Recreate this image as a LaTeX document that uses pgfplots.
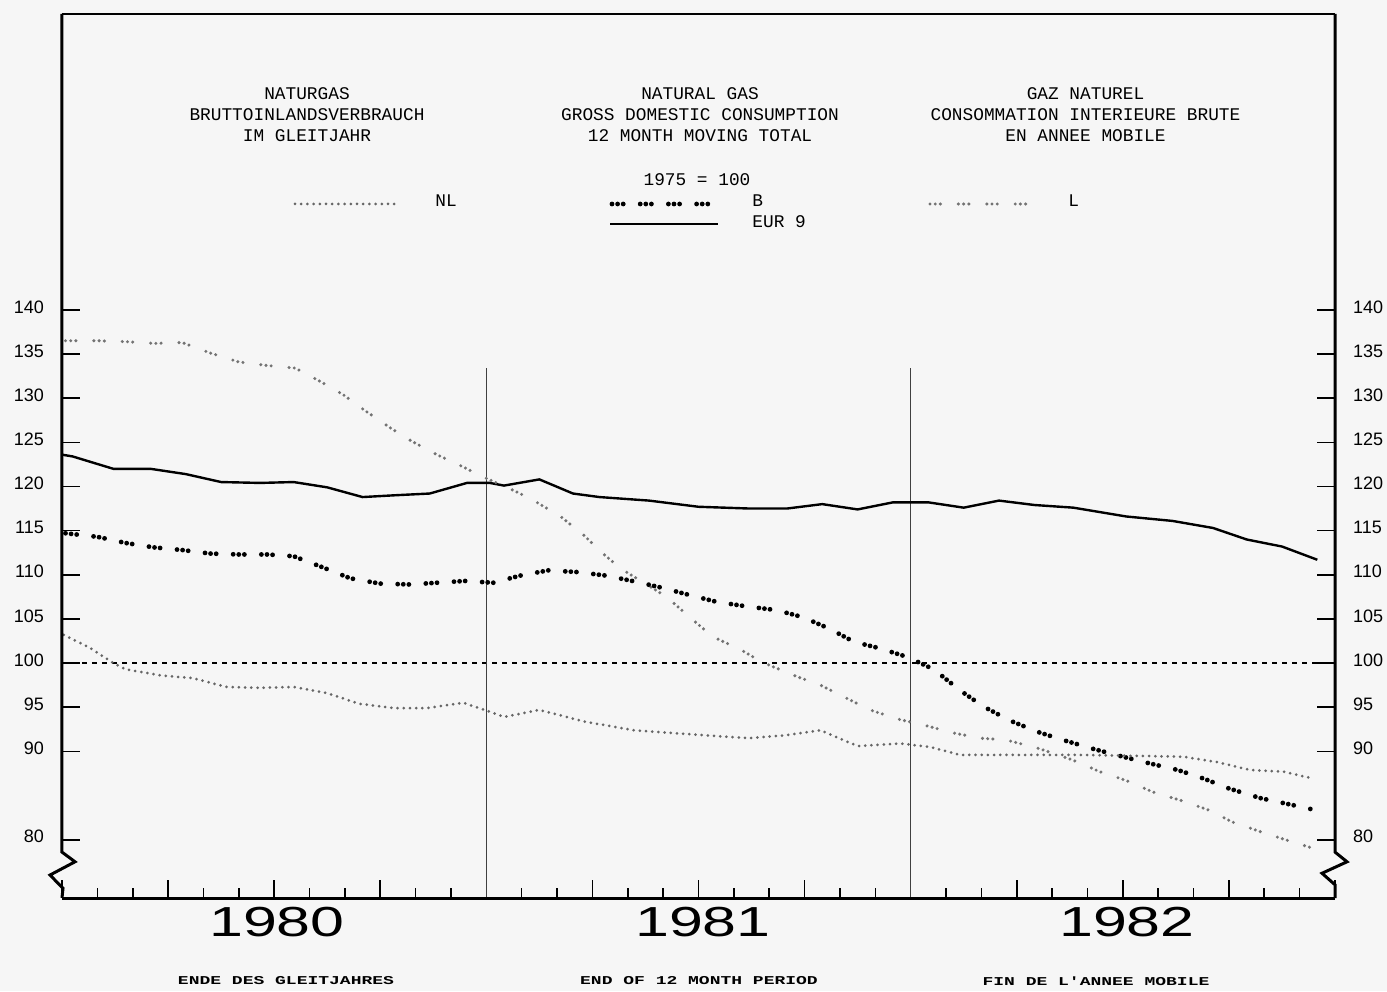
\documentclass[border=0pt]{standalone}
\usepackage{pgfplots}
\pgfplotsset{compat=1.18}
\usepackage{graphicx}
\usepackage{fontspec}
\setmainfont{Liberation Sans}
\newfontfamily\mono{Liberation Mono}

\tikzset{
  nlstyle/.style={draw=black!60, line width=1.5pt, line cap=round, dash pattern=on 0pt off 3.1pt},
  lstyle/.style={draw=black!55, line width=1.7pt, line cap=round, dash pattern=on 0pt off 2.6pt on 0pt off 2.6pt on 0pt off 9pt},
  bstyle/.style={draw=black, line width=2.4pt, line cap=round, dash pattern=on 0pt off 2.8pt on 0pt off 2.8pt on 0pt off 8.5pt},
  eurstyle/.style={draw=black, line width=1.2pt},
}

\begin{document}
\begin{tikzpicture}
\useasboundingbox (0,0) rectangle (693.5pt,495.5pt);
\fill[gray!7] (0,0) rectangle (693.5pt,495.5pt);

\begin{axis}[
  at={(31pt,46.5pt)}, anchor=south west, scale only axis,
  width=636.5pt, height=442pt,
  xmin=0, xmax=36, ymin=73.4, ymax=173.5,
  clip=false,
  axis line style={draw=none},
  xtick={0,3,...,36},
  minor xtick={1,2,4,5,7,8,10,11,13,14,16,17,19,20,22,23,25,26,28,29,31,32,34,35},
  xticklabels={},
  xtick pos=bottom,
  ytick={80,90,95,100,105,110,115,120,125,130,135,140},
  ytick pos=both,
  yticklabel pos=left,
  tick align=inside,
  major tick length=9pt, minor tick length=5pt,
  tick style={black, line width=0.8pt},
  /pgf/number format/assume math mode=true,
  yticklabel style={font=\fontsize{9}{10}\selectfont, xshift=-5.5pt, yshift=1.5pt},
]
% reference lines
\addplot[black, line width=0.6pt, dash pattern=on 2.5pt off 2.5pt] coordinates {(0,100)(36,100)};
\addplot[black!75, line width=0.6pt] coordinates {(12,133.4)(12,73.4)};
\addplot[black!75, line width=0.6pt] coordinates {(24,133.4)(24,73.4)};

% EUR 9
\addplot[eurstyle] coordinates {
(0,123.6)(0.3,123.4)(1.45,122.0)(2.5,122.0)(3.5,121.4)(4.5,120.5)(5.6,120.4)(6.55,120.5)(7.5,119.9)(8.5,118.8)(9.4,119.0)(10.4,119.2)(11.45,120.4)(12.1,120.4)(12.5,120.1)(13.5,120.8)(14.45,119.2)(15.2,118.8)(16.6,118.4)(18.0,117.7)(19.45,117.5)(20.5,117.5)(21.5,118.0)(22.5,117.4)(23.5,118.2)(24.5,118.2)(25.5,117.6)(26.5,118.4)(27.5,117.9)(28.6,117.6)(30.1,116.6)(31.4,116.1)(32.55,115.3)(33.5,114.0)(34.5,113.2)(35.5,111.7)
};
% L
\addplot[lstyle] coordinates {
(0.1,136.5)(1.0,136.5)(1.8,136.4)(2.6,136.2)(3.4,136.3)(4.2,135.1)(5.0,134.1)(5.8,133.7)(6.6,133.4)(7.3,131.9)(7.95,130.4)(8.6,128.5)(9.3,126.6)(9.9,125.1)(10.6,123.6)(11.25,122.4)(11.9,121.1)(12.85,119.4)(13.3,118.5)(14.1,116.6)(14.75,114.5)(15.3,112.4)(15.8,110.7)(17.1,107.5)(17.75,105.2)(18.4,103.0)(19.2,101.5)(19.8,100.1)(20.7,98.6)(21.45,97.5)(22.1,96.2)(22.85,94.7)(23.6,93.7)(24.45,92.9)(25.2,92.1)(25.95,91.5)(26.7,91.3)(27.65,90.3)(28.6,89.0)(29.35,87.7)(30.1,86.7)(30.85,85.4)(31.6,84.5)(32.4,83.4)(33.1,82.0)(33.9,80.9)(34.6,80.0)(35.4,79.0)
};
% B
\addplot[bstyle] coordinates {
(0.1,114.7)(1.0,114.3)(1.8,113.6)(2.6,113.1)(3.4,112.8)(4.2,112.4)(5.0,112.3)(5.8,112.3)(6.55,112.1)(7.4,110.8)(8.15,109.6)(9.0,109.0)(9.85,108.9)(10.6,109.1)(11.4,109.3)(12.2,109.1)(12.95,109.9)(13.75,110.5)(14.6,110.3)(15.4,109.9)(16.25,109.2)(17.0,108.5)(17.75,107.7)(18.55,106.9)(19.4,106.4)(20.2,106.0)(20.95,105.2)(21.7,103.9)(22.4,102.4)(23.1,101.7)(23.9,100.7)(24.65,99.3)(25.4,96.9)(26.05,95.1)(26.8,93.5)(27.6,92.2)(28.3,91.3)(29.15,90.3)(30.0,89.4)(30.8,88.6)(31.55,87.9)(32.3,86.9)(33.0,85.8)(33.9,84.7)(34.6,84.1)(35.4,83.4)
};
% NL
\addplot[nlstyle] coordinates {
(0.05,103.2)(0.8,101.7)(1.45,100.0)(1.8,99.3)(2.8,98.6)(3.7,98.3)(4.65,97.3)(5.6,97.2)(6.55,97.3)(7.5,96.6)(8.4,95.4)(9.4,94.9)(10.3,94.9)(11.35,95.5)(12.1,94.5)(12.5,93.9)(13.5,94.7)(14.75,93.4)(16.15,92.4)(17.55,92.0)(19.4,91.5)(20.4,91.8)(21.45,92.4)(22.5,90.6)(23.7,90.9)(24.55,90.5)(25.4,89.6)(26.5,89.6)(27.65,89.6)(28.8,89.6)(30.3,89.5)(31.7,89.4)(32.65,88.8)(33.6,87.9)(34.55,87.7)(35.4,86.9)
};

% frame with axis breaks
\draw[black, line width=0.8pt] (rel axis cs:0,1) -- (rel axis cs:1,1);
\draw[black, line width=1.5pt] (rel axis cs:0,0) -- (rel axis cs:1,0);
\draw[black, line width=1.5pt, line join=miter] (axis cs:0,173.5) -- (axis cs:0,78.6) -- ([xshift=6.5pt]axis cs:0,77.5) -- ([xshift=-6pt]axis cs:0,76.0) -- ([xshift=0.5pt]axis cs:0,74.5) -- (axis cs:0,73.4);
\draw[black, line width=1.5pt, line join=miter] (axis cs:36,173.5) -- (axis cs:36,78.6) -- ([xshift=6pt]axis cs:36,77.5) -- ([xshift=-6.5pt]axis cs:36,76.2) -- (axis cs:36,74.9) -- (axis cs:36,73.4);
\end{axis}

% right-hand tick labels
\begin{axis}[
  at={(31pt,46.5pt)}, anchor=south west, scale only axis,
  width=636.5pt, height=442pt,
  xmin=0, xmax=36, ymin=73.4, ymax=173.5,
  axis line style={draw=none},
  xtick=\empty,
  ytick={80,90,95,100,105,110,115,120,125,130,135,140},
  ytick pos=right, yticklabel pos=right,
  major tick length=0pt,
  /pgf/number format/assume math mode=true,
  yticklabel style={font=\fontsize{9}{10}\selectfont, xshift=5.5pt, yshift=1.5pt},
]
\end{axis}

% titles
\begin{scope}[every node/.style={font=\mono\fontsize{8.9}{10.5}\selectfont, align=center, inner sep=0pt}]
\node at (153.5pt,438pt) {NATURGAS\\BRUTTOINLANDSVERBRAUCH\\IM GLEITJAHR};
\node at (350pt,438pt) {NATURAL GAS\\GROSS DOMESTIC CONSUMPTION\\12 MONTH MOVING TOTAL};
\node at (542.75pt,438pt) {GAZ NATUREL\\CONSOMMATION INTERIEURE BRUTE\\EN ANNEE MOBILE};
\node at (348.5pt,405.5pt) {1975 = 100};
\node[anchor=west] at (217.5pt,395pt) {NL};
\node[anchor=west] at (376pt,395pt) {B};
\node[anchor=west] at (376pt,384.5pt) {EUR 9};
\node[anchor=west] at (534pt,395pt) {L};
\end{scope}

% legend samples
\draw[nlstyle] (147.5pt,393.5pt) -- (199pt,393.5pt);
\draw[bstyle] (306pt,393.5pt) -- (358pt,393.5pt);
\draw[eurstyle] (305pt,383.5pt) -- (359pt,383.5pt);
\draw[lstyle] (465pt,393.5pt) -- (517pt,393.5pt);

% years
\node at (138.5pt,34.5pt) {\scalebox{1.45}[1]{\fontsize{21}{21}\selectfont 1980}};
\node at (351.5pt,34.5pt) {\scalebox{1.45}[1]{\fontsize{21}{21}\selectfont 1981}};
\node at (563.5pt,34.5pt) {\scalebox{1.45}[1]{\fontsize{21}{21}\selectfont 1982}};

% bottom captions
\node at (143pt,5pt) {\scalebox{1.5}[1]{\mono\bfseries\fontsize{6}{6}\selectfont ENDE DES GLEITJAHRES}};
\node at (349.5pt,5pt) {\scalebox{1.5}[1]{\mono\bfseries\fontsize{6}{6}\selectfont END OF 12 MONTH PERIOD}};
\node at (548pt,5pt) {\scalebox{1.5}[1]{\mono\bfseries\fontsize{6}{6}\selectfont FIN DE L'ANNEE MOBILE}};
\end{tikzpicture}
\end{document}
